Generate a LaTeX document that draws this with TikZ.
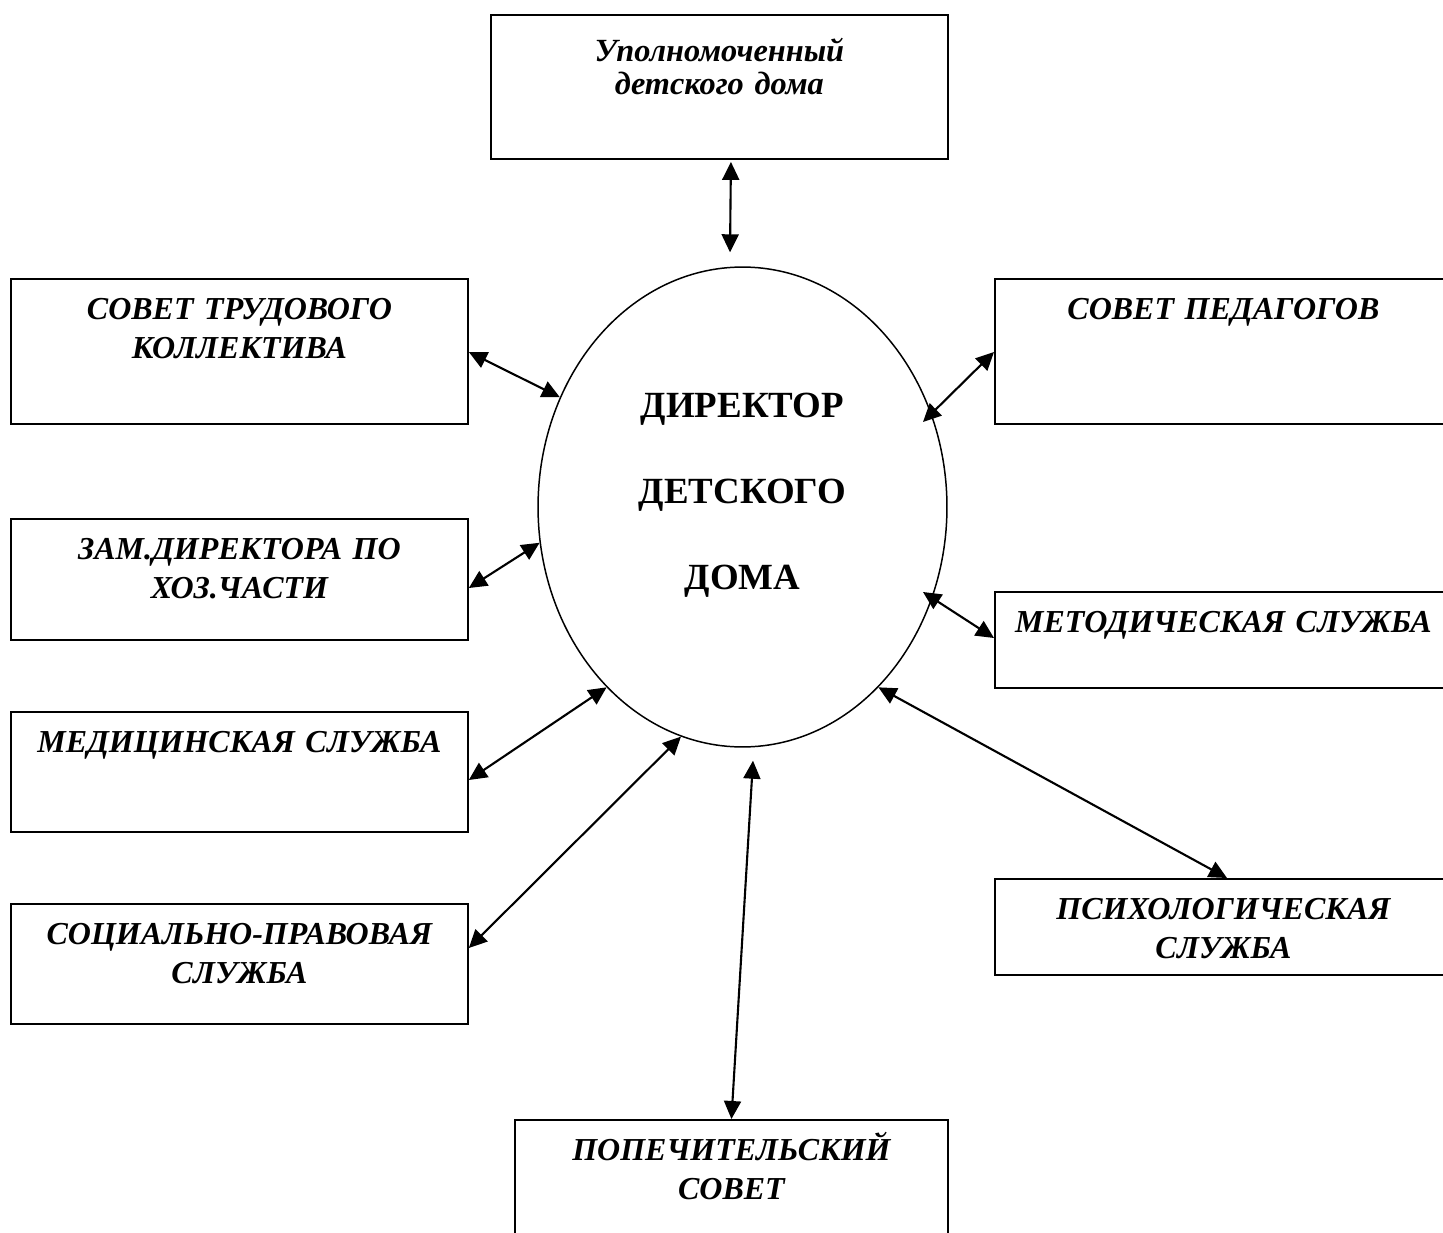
\documentclass[tikz,border=0pt]{standalone}
\usepackage{fontspec}
\setmainfont{Liberation Serif}
\usetikzlibrary{arrows.meta,calc,shapes.geometric}
\tikzset{
  unit/.style={draw, line width=1.1pt, anchor=north west, inner sep=0pt,
    text width=9.14cm, align=center, text height=0.82cm,
    font=\bfseries\itshape\fontsize{18.2}{21.8}\selectfont},
  link/.style={{Triangle[length=0.36cm,width=0.34cm]}-{Triangle[length=0.36cm,width=0.34cm]}, line width=1.2pt}
}
\begin{document}
\begin{tikzpicture}[x=0.02cm,y=-0.02cm]
    \useasboundingbox (0,0) rectangle (1443,1233);
    \clip (0,0) rectangle (1443,1233);
    \node[draw, ellipse, line width=0.85pt, minimum width=8.18cm, minimum height=9.6cm,
        inner sep=0pt, text width=4.6cm, align=center, text height=0.6cm, text depth=4.2cm,
        font=\bfseries\fontsize{21}{49}\selectfont] (dir) at (742.5,507) {ДИРЕКТОР\\ДЕТСКОГО\\ДОМА};
    \node[unit, font=\bfseries\itshape\fontsize{18.4}{18.4}\selectfont, text height=0.94cm, text depth=1.94cm] (upol) at (490,14) {Уполномоченный\\детского дома};
    \node[unit, text depth=2.08cm] (trud) at (10,278) {СОВЕТ ТРУДОВОГО\\КОЛЛЕКТИВА};
    \node[unit, text depth=1.6cm] (zam) at (10,518) {ЗАМ.ДИРЕКТОРА ПО\\ХОЗ.ЧАСТИ};
    \node[unit, text depth=1.58cm] (med) at (10,711) {МЕДИЦИНСКАЯ СЛУЖБА};
    \node[unit, text depth=1.58cm] (soc) at (10,903) {СОЦИАЛЬНО-ПРАВОВАЯ\\СЛУЖБА};
    \node[unit, text depth=2.08cm] (pedag) at (994,278) {СОВЕТ ПЕДАГОГОВ};
    \node[unit, text depth=1.1cm] (metod) at (994,591) {МЕТОДИЧЕСКАЯ СЛУЖБА};
    \node[unit, text depth=1.1cm] (psych) at (994,878) {ПСИХОЛОГИЧЕСКАЯ\\СЛУЖБА};
    \node[unit, text width=8.66cm, text depth=2.08cm] (popech) at (514,1119) {ПОПЕЧИТЕЛЬСКИЙ\\СОВЕТ};
    \draw[link] ($(upol.south)+(11.5,2)$) -- ($(dir.north)+(-12.5,-14)$);
    \draw[link] ($(trud.north east)+(0,74)$) -- (dir.149);
    \draw[link] ($(zam.north east)+(0,70)$) -- (dir.190);
    \draw[link] ($(med.north east)+(0,69)$) -- (dir.233);
    \draw[link] ($(soc.north east)+(0,45)$) -- (dir.255);
    \draw[link] (popech.north) -- ($(dir.south)+(10.5,13)$);
    \draw[link] ($(pedag.north west)+(0,74)$) -- ($(dir.center)+(180.5,-85)$);
    \draw[link] ($(metod.north west)+(0,47)$) -- ($(dir.center)+(180.5,85)$);
    \draw[link] ($(psych.north west)+(233,0)$) -- (dir.307);
\end{tikzpicture}
\end{document}
